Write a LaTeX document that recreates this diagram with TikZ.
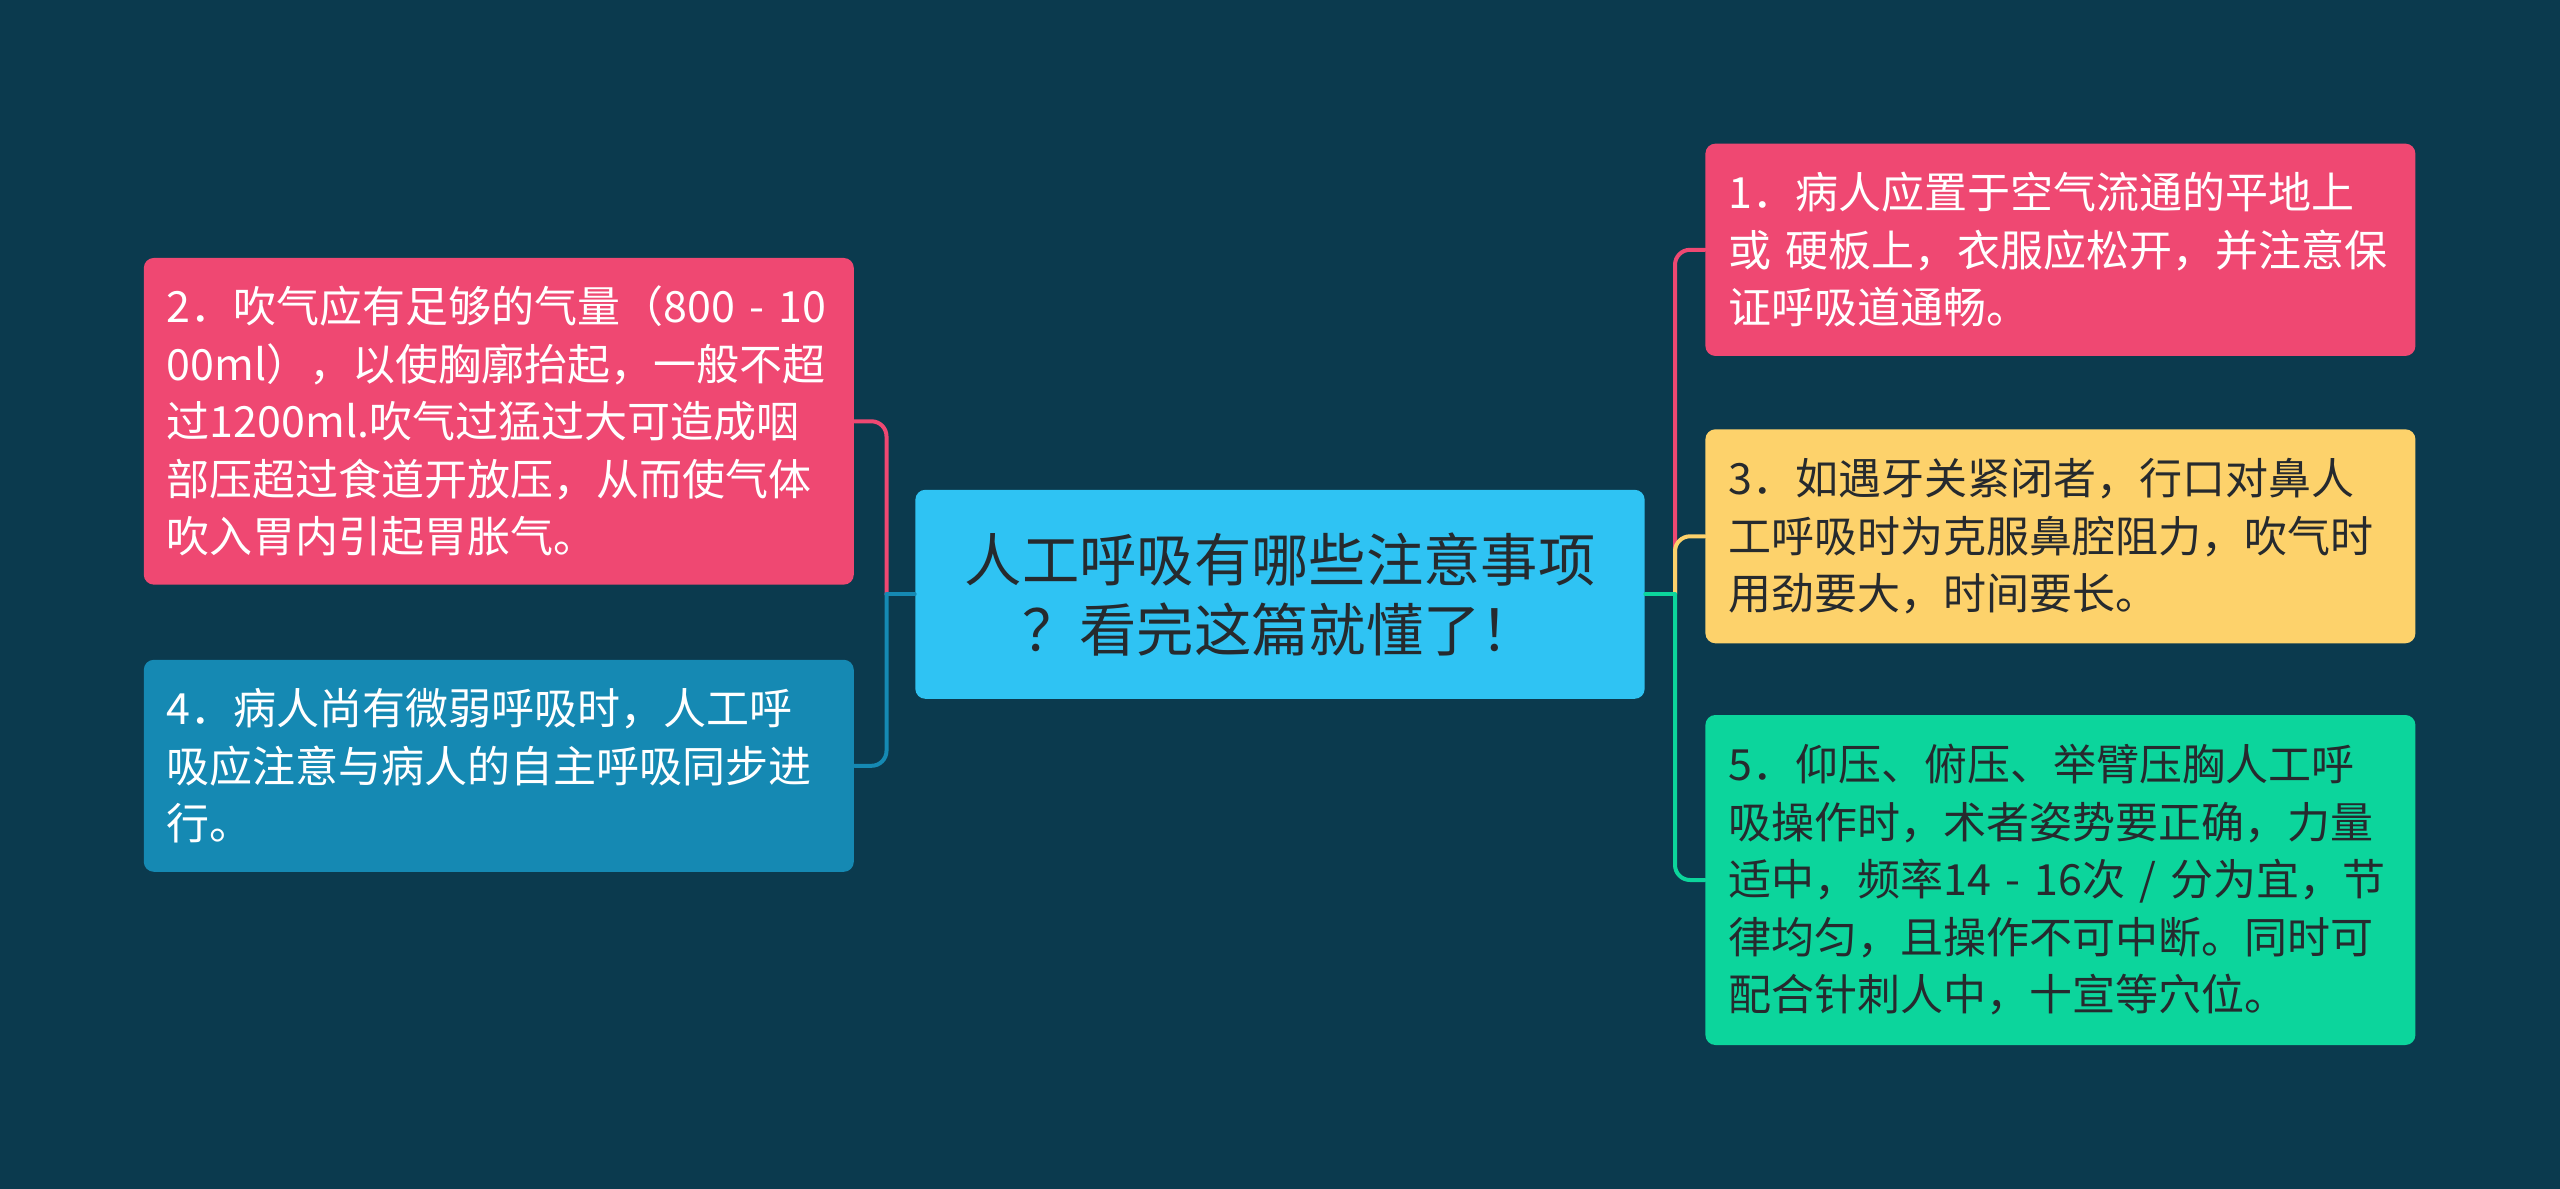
\documentclass[tikz,border=0pt]{standalone}
\usepackage{fontspec}
\setmainfont{Noto Sans CJK SC}
\definecolor{bg}{HTML}{0B3A4E}
\definecolor{pinkC}{HTML}{EF4872}
\definecolor{blueC}{HTML}{1589B3}
\definecolor{centerC}{HTML}{2FC3F3}
\definecolor{yellowC}{HTML}{FDD26B}
\definecolor{greenC}{HTML}{0CD59C}
\definecolor{darkT}{HTML}{262A2E}
\begin{document}
\begin{tikzpicture}[x=0.3pt,y=-0.3pt,
  box/.style={rounded corners=3pt, inner xsep=6.9pt, inner ysep=0pt, align=left,
    font=\fontsize{12.9pt}{17.25pt}\selectfont, minimum width=213pt, text width=199.2pt},
  conn/.style={line width=1.2pt, line cap=round, rounded corners=4.5pt}]
\path[fill=bg] (0,0) rectangle (2560,1189);
\useasboundingbox (0,0) rectangle (2560,1189);

\node[box, fill=centerC, text=darkT, align=center, minimum width=217.5pt, text width=205pt,
  minimum height=62.7pt, font=\fontsize{17.2pt}{21pt}\selectfont] (c) at (1280,594.3)
  {人工呼吸有哪些注意事项\\？看完这篇就懂了！};

\node[box, fill=pinkC, text=white, minimum height=98pt] (b2) at (498.8,421.3)
  {2．吹气应有足够的气量（800 - 10\\00ml），以使胸廓抬起，一般不超\\过1200ml.吹气过猛过大可造成咽\\部压超过食道开放压，从而使气体\\吹入胃内引起胃胀气。};
\node[box, fill=blueC, text=white, minimum height=63.6pt] (b4) at (498.8,765.8)
  {4．病人尚有微弱呼吸时，人工呼\\吸应注意与病人的自主呼吸同步进\\行。};

\node[box, fill=pinkC, text=white, minimum height=63.7pt] (b1) at (2060.4,249.8)
  {1．病人应置于空气流通的平地上\\或 硬板上，衣服应松开，并注意保\\证呼吸道通畅。};
\node[box, fill=yellowC, text=darkT, minimum height=64.2pt] (b3) at (2060.4,536.3)
  {3．如遇牙关紧闭者，行口对鼻人\\工呼吸时为克服鼻腔阻力，吹气时\\用劲要大，时间要长。};
\node[box, fill=greenC, text=darkT, minimum height=99pt] (b5) at (2060.4,880)
  {5．仰压、俯压、举臂压胸人工呼\\吸操作时，术者姿势要正确，力量\\适中，频率14 - 16次 / 分为宜，节\\律均匀，且操作不可中断。同时可\\配合针刺人中，十宣等穴位。};

\coordinate (tL) at (886.5,594.3);
\coordinate (tR) at (1675,594.3);

\draw[conn, pinkC] (b2.east) -| (tL);
\draw[conn, blueC] (b4.east) -| (tL);
\draw[conn, blueC] (c.west) -- (tL);

\draw[conn, pinkC] (b1.west) -| (tR);
\draw[conn, yellowC] (b3.west) -| (tR);
\draw[conn, greenC] (b5.west) -| (tR);
\draw[conn, greenC] (c.east) -- (tR);
\end{tikzpicture}
\end{document}
